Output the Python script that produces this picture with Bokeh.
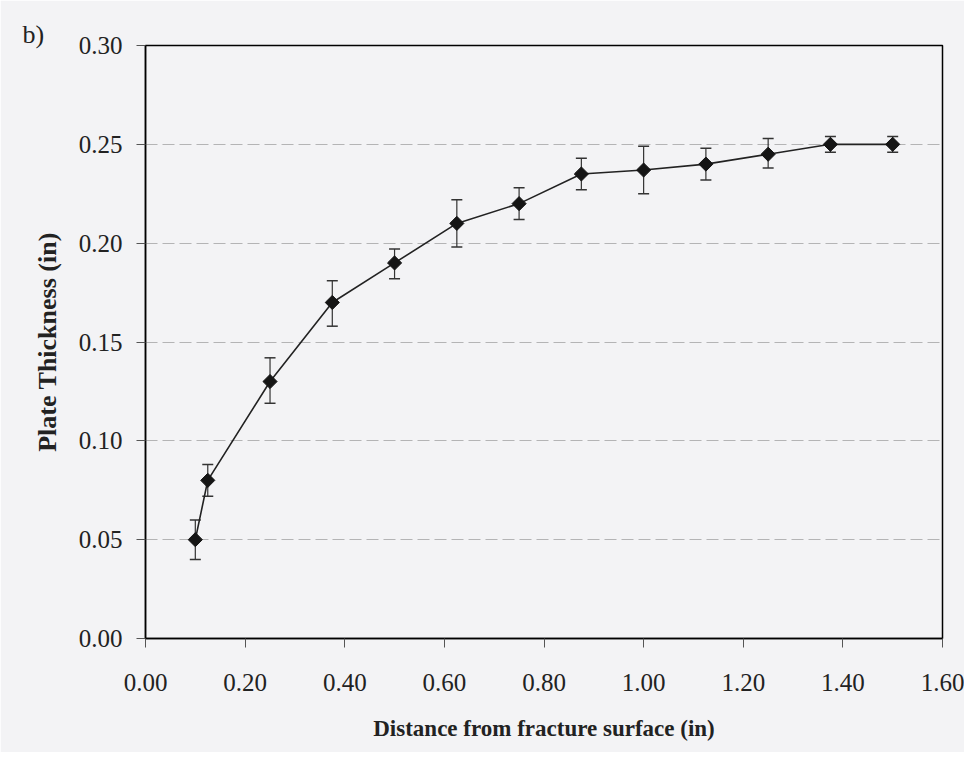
import math
from bokeh.plotting import figure
from bokeh.models import Range1d, FixedTicker, NumeralTickFormatter, Whisker, ColumnDataSource, Title
from bokeh.embed import file_html
from bokeh.resources import INLINE

# Data
distance = [0.10, 0.125, 0.25, 0.375, 0.50, 0.625, 0.75, 0.875, 1.00, 1.125, 1.25, 1.375, 1.50]
thickness = [0.050, 0.080, 0.130, 0.170, 0.190, 0.210, 0.220, 0.235, 0.237, 0.240, 0.245, 0.250, 0.250]
err_upper = [0.060, 0.088, 0.142, 0.181, 0.197, 0.222, 0.228, 0.243, 0.249, 0.248, 0.253, 0.254, 0.254]
err_lower = [0.040, 0.072, 0.119, 0.158, 0.182, 0.198, 0.212, 0.227, 0.225, 0.232, 0.238, 0.246, 0.246]
x_ticks = [0.0, 0.2, 0.4, 0.6, 0.8, 1.0, 1.2, 1.4, 1.6]
y_ticks = [0.0, 0.05, 0.10, 0.15, 0.20, 0.25, 0.30]

FONT = "Liberation Serif"
BG = "#f3f3f5"

src = ColumnDataSource(dict(x=distance, y=thickness, upper=err_upper, lower=err_lower))

p = figure(frame_width=797, frame_height=593, width=964, height=752,
           min_border_left=145, min_border_right=22, min_border_top=45, min_border_bottom=114,
           x_range=Range1d(0, 1.6), y_range=Range1d(0, 0.30),
           output_backend="svg", toolbar_location=None)

p.background_fill_color = BG
p.border_fill_color = BG
p.outline_line_color = "black"
p.outline_line_width = 1.5

p.xgrid.grid_line_color = None
p.ygrid.grid_line_color = "#8a8a8a"
p.ygrid.grid_line_dash = "12 5"
p.ygrid.grid_line_alpha = 0.6
p.ygrid.grid_line_width = 1

for ax in (p.xaxis[0], p.yaxis[0]):
    ax.axis_line_color = "black"
    ax.axis_line_width = 1.5
    ax.major_tick_line_color = "#555555"
    ax.major_tick_in = 0
    ax.major_tick_out = 9
    ax.minor_tick_line_color = None
    ax.major_label_text_font = FONT
    ax.major_label_text_font_size = "25px"
    ax.major_label_text_color = "#222222"
    ax.axis_label_text_font = FONT
    ax.axis_label_text_font_style = "bold"
    ax.axis_label_text_color = "#222222"
    ax.formatter = NumeralTickFormatter(format="0.00")

p.xaxis.ticker = FixedTicker(ticks=x_ticks)
p.yaxis.ticker = FixedTicker(ticks=y_ticks)
p.xaxis.major_label_standoff = 26
p.yaxis.major_label_standoff = 14
p.xaxis.axis_label = "Distance from fracture surface (in)"
p.yaxis.axis_label = "Plate Thickness (in)"
p.xaxis.axis_label_text_font_size = "23px"
p.yaxis.axis_label_text_font_size = "26px"
p.xaxis.axis_label_standoff = 22
p.yaxis.axis_label_standoff = 14

p.line("x", "y", source=src, line_color="#222222", line_width=1.6)

w = Whisker(source=src, base="x", upper="upper", lower="lower", dimension="height",
            line_color="#333333", line_width=1.2)
w.upper_head.size = 11
w.lower_head.size = 11
w.upper_head.line_color = "#333333"
w.lower_head.line_color = "#333333"
w.upper_head.line_width = 1.5
w.lower_head.line_width = 1.5
p.add_layout(w)

p.scatter("x", "y", source=src, marker="square", size=10, angle=math.pi / 4,
          fill_color="#151515", line_color="#151515")

p.add_layout(Title(text="b)", align="left", offset=-123, standoff=-6,
                   text_font=FONT, text_font_size="26px", text_font_style="normal",
                   text_color="#222222"), "above")

open("out.html", "w").write(file_html(p, INLINE))
